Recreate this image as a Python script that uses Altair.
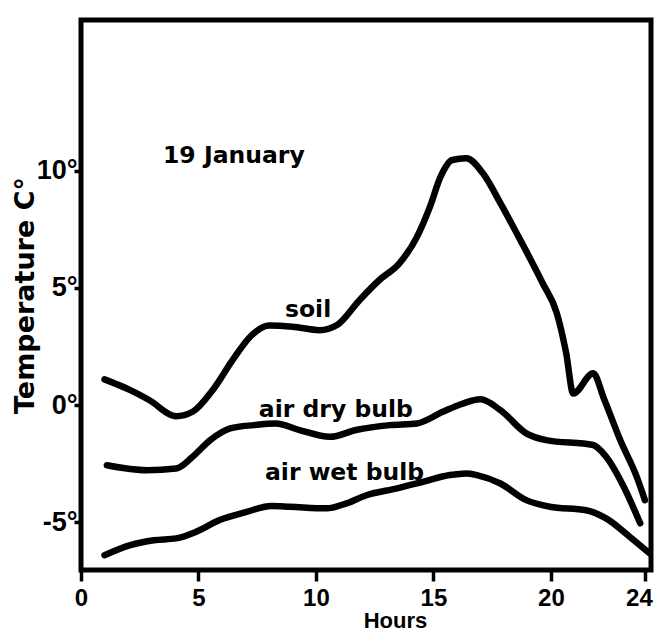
import altair as alt
import pandas as pd

# ---- data ----
soil_hours = [1.0, 2.1, 2.9, 4.05, 4.75, 5.6, 6.45, 7.2, 8.0, 9.0, 10.15, 10.9, 11.85, 12.7,
              13.55, 14.3, 14.85, 15.3, 15.8, 16.4, 17.1, 17.85, 18.7, 19.65, 20.25, 20.65,
              20.95, 21.8, 22.25, 22.95, 23.65, 24.0]
soil_temp = [1.1, 0.64, 0.22, -0.47, -0.28, 0.64, 1.92, 2.92, 3.4, 3.35, 3.2, 3.42, 4.48, 5.34,
             6.05, 7.18, 8.46, 9.74, 10.46, 10.53, 9.9, 8.62, 7.04, 5.2, 3.93, 2.22,
             0.5, 1.36, 0.3, -1.49, -3.05, -4.05]

dry_hours = [1.1, 2.8, 4.05, 4.75, 5.5, 6.35, 7.35, 8.3, 9.3, 10.6, 11.7, 13.15, 14.3, 15.4,
             16.2, 17.0, 17.85, 18.95, 19.8, 21.8, 22.35, 23.1, 23.8]
dry_temp = [-2.56, -2.77, -2.70, -2.20, -1.49, -0.99, -0.85, -0.78, -1.06, -1.35, -1.06, -0.85,
            -0.78, -0.28, 0.05, 0.25, -0.21, -1.20, -1.49, -1.70, -2.20, -3.48, -5.04]

wet_hours = [1.0, 2.1, 3.1, 4.05, 4.9, 5.9, 7.05, 8.1, 8.9, 10.45, 11.3, 12.15, 13.45, 14.55,
             15.7, 16.4, 16.85, 17.85, 18.95, 19.95, 21.5, 22.35, 23.35, 24.2]
wet_temp = [-6.4, -5.97, -5.76, -5.68, -5.40, -4.90, -4.55, -4.30, -4.33, -4.40, -4.19, -3.84,
            -3.55, -3.27, -2.98, -2.91, -2.98, -3.34, -4.05, -4.33, -4.48, -4.83, -5.61, -6.32]

label_texts = ["19 January", "soil", "air dry bulb", "air wet bulb"]
label_hours = [3.49, 8.68, 7.57, 7.83]
label_temps = [10.31, 3.76, -0.51, -3.20]

x_ticks = [0, 5, 10, 15, 20, 24]
y_ticks = [-5, 0, 5, 10]

# ---- build tables ----
rows = []
for name, hs, ts in [("soil", soil_hours, soil_temp),
                     ("air dry bulb", dry_hours, dry_temp),
                     ("air wet bulb", wet_hours, wet_temp)]:
    for h, t in zip(hs, ts):
        rows.append({"series": name, "hour": h, "temp": t})
lines_df = pd.DataFrame(rows)
labels_df = pd.DataFrame({"text": label_texts, "hour": label_hours, "temp": label_temps})

xscale = alt.Scale(domain=[0, 24.26], nice=False, zero=False)
yscale = alt.Scale(domain=[-7.03, 16.43], nice=False, zero=False)

lines = alt.Chart(lines_df).mark_line(
    color="black", strokeWidth=6.5, strokeCap="round", strokeJoin="round",
    interpolate="monotone", clip=True
).encode(
    x=alt.X("hour:Q", scale=xscale,
            axis=alt.Axis(values=x_ticks, title="Hours", tickSize=11, tickWidth=3.5,
                          labelPadding=5, labelFontSize=24, labelFont="Liberation Sans",
                          labelFontWeight="bold",
                          labelOffset={"condition": {"test": "datum.value == 24", "value": -6},
                                       "value": 0},
                          titleFont="Liberation Sans", titleFontSize=22,
                          titleFontWeight="bold", titleX=314, titleY=57,
                          titleBaseline="alphabetic", titleAlign="center", grid=False,
                          domain=False, labelFlush=False)),
    y=alt.Y("temp:Q", scale=yscale,
            axis=alt.Axis(values=y_ticks, title="Temperature C°", labelExpr="datum.value + '°'",
                          tickSize=7, tickWidth=3.5, labelPadding=-3, labelFontSize=27,
                          labelFont="Liberation Sans", labelFontWeight="bold",
                          titleFont="DejaVu Sans", titleFontSize=27, titleFontWeight="bold",
                          titleX=-56, titleY=275, titleAngle=-90, titleBaseline="middle",
                          titleAlign="center", grid=False, domain=False, labelFlush=False)),
    detail="series:N",
)

texts = alt.Chart(labels_df).mark_text(
    align="left", baseline="alphabetic", font="DejaVu Sans", fontWeight="bold",
    fontSize=23.5, color="black"
).encode(
    x=alt.X("hour:Q", scale=xscale),
    y=alt.Y("temp:Q", scale=yscale),
    text="text:N",
)

chart = alt.layer(lines, texts).properties(
    width=570, height=550,
    padding={"left": 73, "top": 12, "right": 3, "bottom": 63},
    autosize=alt.AutoSizeParams(type="none"),
    background="white",
).configure_view(
    stroke="black", strokeWidth=5
).configure_axis(
    tickColor="black", labelColor="black", titleColor="black"
)

chart.save("out.html", embed_options={"renderer": "svg", "actions": False})
